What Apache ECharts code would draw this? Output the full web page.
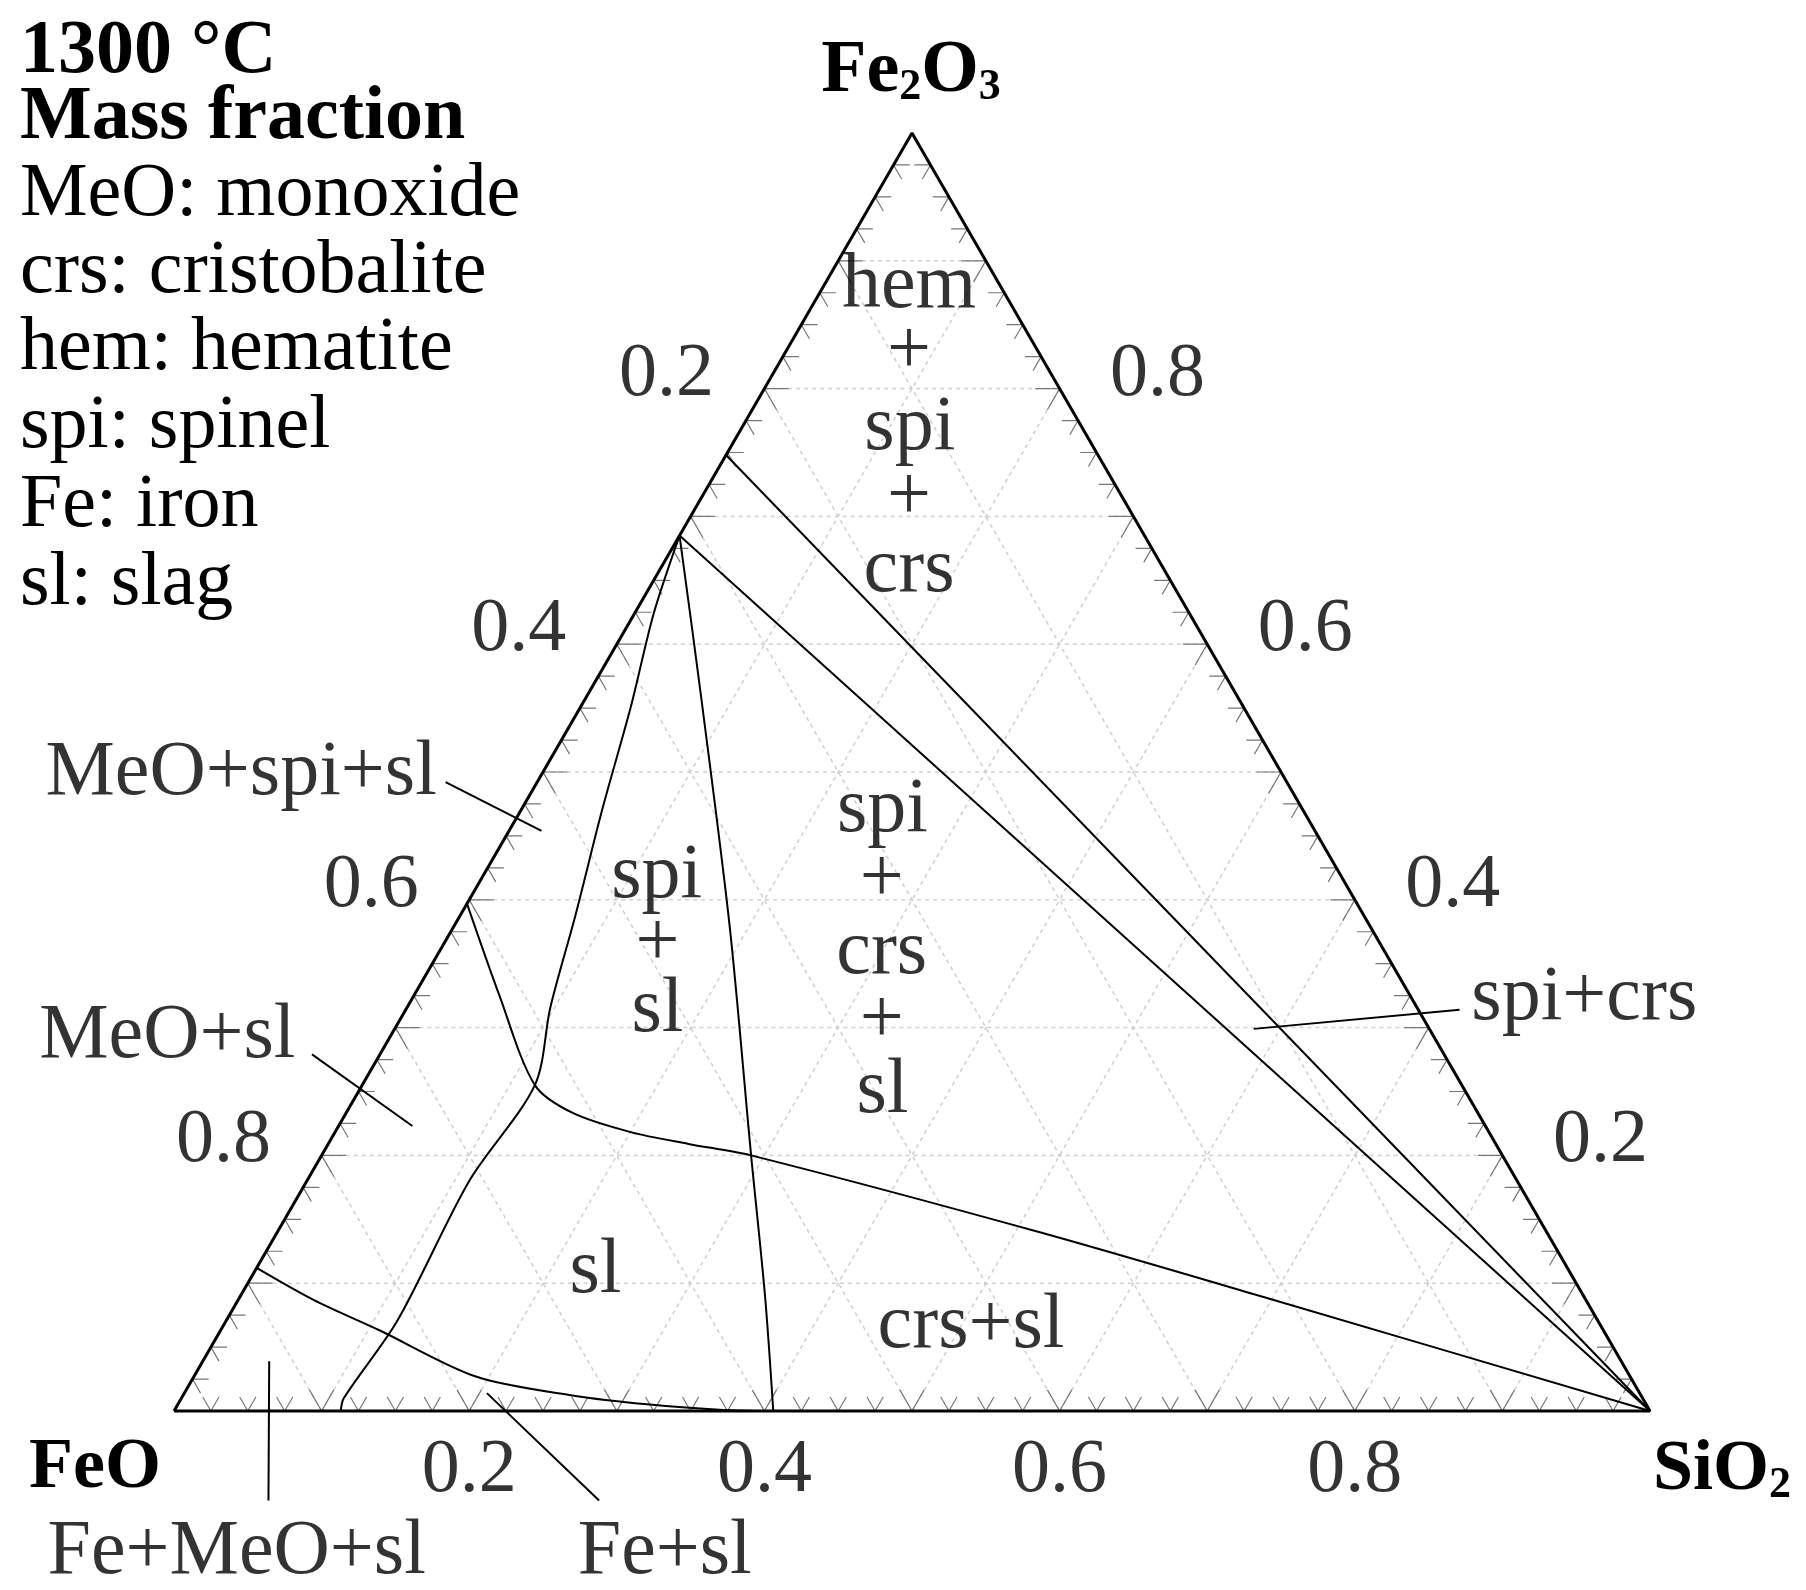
<!DOCTYPE html>
<html><head><meta charset="utf-8">
<script src="https://cdn.jsdelivr.net/npm/echarts@6/dist/echarts.min.js"></script>
<style>html,body{margin:0;background:#fff}#c{width:1806px;height:1590px}</style>
</head><body><div id="c"></div>
<script>
// ternary points as [SiO2 fraction, Fe2O3 fraction]
const lineA_to_SiO2 = [[0,0.685],[1,0]];
const lineB_to_SiO2 = [[0,0.748],[1,0]];
const spiSl_crs = [[0,0.685],[0.077,0.560],[0.187,0.379],[0.291,0.200],[0.356,0.089],[0.406,0]];
const meo_spiSl = [[0,0.685],[0.013,0.624],[0.034,0.551],[0.055,0.470],[0.078,0.388],[0.097,0.316],[0.117,0.255],[0.110,0.180],[0.116,0.071],[0.110,0.010],[0.113,0]];
const meoSl_sl = [[0,0.397],[0.058,0.325],[0.117,0.255],[0.154,0.233],[0.201,0.218],[0.244,0.209],[0.291,0.200],[0.516,0.140],[0.701,0.087],[1,0]];
const fe_sl = [[0,0.112],[0.051,0.087],[0.108,0.063],[0.191,0.027],[0.265,0.012],[0.320,0.005],[0.369,0.001],[0.40,0]];
const phaseLabels = [
 ['hem',0.058,0.880],['+',0.084,0.828],['spi',0.114,0.769],['+',0.141,0.714],['crs',0.169,0.658],
 ['spi',0.118,0.418],['+',0.145,0.365],['sl',0.171,0.313],
 ['spi',0.245,0.470],['+',0.272,0.415],['crs',0.300,0.359],['+',0.327,0.305],['sl',0.355,0.250],
 ['sl',0.231,0.109],['crs+sl',0.507,0.066],
 ['MeO+spi+sl',-0.204,0.499],['MeO+sl',-0.151,0.293],['spi+crs',0.794,0.323],
 ['Fe+MeO+sl',0.098,-0.111],['Fe+sl',0.388,-0.111]
];
const leaders = [
 [[-0.062,0.492],[0.022,0.454]],
 [[-0.046,0.279],[0.050,0.223]],
 [[0.714,0.314],[0.582,0.299]],
 [[0.045,0.039],[0.099,-0.070]],
 [[0.205,0.014],[0.323,-0.070]]
];
const tickLabels = [0.2,0.4,0.6,0.8];
const legendLines = [['1300 °C',true],['Mass fraction',true],['MeO: monoxide',false],['crs: cristobalite',false],['hem: hematite',false],['spi: spinel',false],['Fe: iron',false],['sl: slag',false]];

const H = Math.sqrt(3)/2;
const xy = p => [p[0] + p[1]/2, p[1]*H];
const FONT = 'Liberation Serif';
const series = [];
function addLine(pts, style, smooth){
  series.push({type:'line', data:pts.map(xy), showSymbol:false, smooth:smooth||false, silent:true, clip:false,
    lineStyle:style, z:style.z||3, animation:false});
}
let grid = [];
for (let k=1;k<10;k++){ const t=k/10;
  grid.push(xy([0,t]),xy([1-t,t]),null, xy([t,0]),xy([t,1-t]),null, xy([0,1-t]),xy([1-t,0]),null);
}
series.push({type:'line',data:grid,showSymbol:false,connectNulls:false,silent:true,animation:false,
  lineStyle:{color:'#cfcfcf',width:1.5,type:[4,4]},z:1});
let ticks=[]; const L=0.011;
for (let k=1;k<40;k++){ const t=k/40; const l = (k%4===0)?L*1.5:L;
  ticks.push(xy([t,0]),xy([t,l]),null, xy([t,0]),xy([t-l,l]),null);
  ticks.push(xy([0,t]),xy([l,t]),null, xy([0,t]),xy([l,t-l]),null);
  ticks.push(xy([1-t,t]),xy([1-t-l,t]),null, xy([1-t,t]),xy([1-t,t-l]),null);
}
series.push({type:'line',data:ticks,showSymbol:false,connectNulls:false,silent:true,animation:false,
  lineStyle:{color:'#777',width:1.2},z:2});
addLine([[0,0],[1,0],[0,1],[0,0]],{color:'#000',width:3,z:5});
const st={color:'#000',width:2};
addLine(lineA_to_SiO2,st); addLine(lineB_to_SiO2,st);
addLine(spiSl_crs,st,0.3); addLine(meo_spiSl,st,0.3); addLine(meoSl_sl,st,0.3); addLine(fe_sl,st,0.3);
leaders.forEach(l=>addLine(l,{color:'#000',width:2}));
series.push({type:'scatter',symbolSize:0,silent:true,animation:false,clip:false,
  data:phaseLabels.map(d=>({name:d[0],value:xy([d[1],d[2]])})),
  label:{show:true,position:'inside',formatter:p=>p.name,fontFamily:FONT,fontSize:78,color:'#000'}});
const tl=[];
tickLabels.forEach(t=>{
  tl.push({name:String(t),value:xy([t,0]),label:{offset:[0,60]}});
  tl.push({name:String(t),value:xy([0,1-t]),label:{offset:[-98,-14]}});
  tl.push({name:String(t),value:xy([1-t,t]),label:{offset:[98,-14]}});
});
series.push({type:'scatter',symbolSize:0,silent:true,animation:false,clip:false,data:tl,
  label:{show:true,position:'inside',formatter:p=>p.name,fontFamily:FONT,fontSize:76,color:'#000'}});

const graphic=[];
const ys=[56,122,199,276,353,431,510,588];
legendLines.forEach((l,i)=>{
  graphic.push({type:'text',left:20,top:ys[i]-42,style:{text:l[0],font:(l[1]?'bold ':'')+'76px '+FONT,fill:'#000'}});
});
graphic.push({type:'text',x:911,y:72,style:{text:'{b|Fe}{s|2}{b|O}{s|3}',align:'center',verticalAlign:'middle',
  rich:{b:{fontFamily:FONT,fontWeight:'bold',fontSize:74,fill:'#000'},s:{fontFamily:FONT,fontWeight:'bold',fontSize:44,fill:'#000',padding:[32,0,0,0]}}}});
graphic.push({type:'text',x:95,y:1468,style:{text:'FeO',font:'bold 72px '+FONT,fill:'#000',align:'center',verticalAlign:'middle'}});
graphic.push({type:'text',x:1722,y:1470,style:{text:'{b|SiO}{s|2}',align:'center',verticalAlign:'middle',
  rich:{b:{fontFamily:FONT,fontWeight:'bold',fontSize:72,fill:'#000'},s:{fontFamily:FONT,fontWeight:'bold',fontSize:44,fill:'#000',padding:[32,0,0,0]}}}});

const chart=echarts.init(document.getElementById('c'));
chart.setOption({animation:false,backgroundColor:'#fff',
  grid:{left:174,top:133,width:1476,height:1278},
  xAxis:{type:'value',min:0,max:1,show:false},
  yAxis:{type:'value',min:0,max:H,show:false},
  series, graphic});
</script></body></html>
